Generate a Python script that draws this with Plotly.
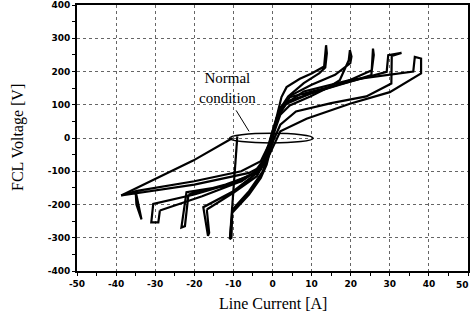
import plotly.graph_objects as go

# ---- data (Line current [A], FCL voltage [V]) ----
loop1_x = [-10.3, -6, -3, -1.5, 0, 1, 2.3, 3.6, 7, 10, 13.2, 13.4, 13.7, 13.9, 13.5, 12, 8, 4, 1.5, 0.5, -0.8, -2.5, -6, -10.2, -10.9, -10.5, -10.3]
loop1_y = [-225, -170, -120, -80, -10, 60, 123, 153, 178, 194, 215, 250, 279, 255, 212, 195, 165, 125, 80, 30, -40, -100, -160, -215, -304, -300, -225]

loop2_x = [-16.8, -10, -4, -1.5, 0.5, 2, 4.4, 9.5, 14, 17.2, 19.5, 19.8, 20.2, 19.9, 16, 10, 5, 2, 0, -1.5, -4, -10, -17.7, -16.5, -16.2, -16.8]
loop2_y = [-215, -165, -115, -60, 20, 70, 98, 124, 150, 174, 234, 264, 245, 225, 190, 160, 130, 90, 20, -50, -105, -160, -208, -294, -285, -215]

loop3_x = [-21.5, -12, -5, -2, 0, 1.5, 4.4, 12.9, 20, 25.3, 25.5, 25.7, 25.9, 25.4, 18, 10, 4, 1, -1, -3, -8, -15, -22, -23.3, -22.4, -21.5]
loop3_y = [-170, -140, -110, -60, 10, 70, 123, 149, 170, 189, 230, 269, 250, 204, 165, 135, 110, 60, -20, -90, -130, -150, -163, -269, -265, -170]

loop4_x = [-28.8, -18, -8, -3, -0.5, 1, 3, 10, 20, 29.2, 29.6, 33, 30.5, 30.4, 24, 15, 6, 2, -1, -3, -10, -20, -30.5, -31, -29.2, -28.8]
loop4_y = [-218, -175, -130, -90, -20, 50, 100, 135, 170, 199, 249, 256, 247, 164, 125, 105, 80, 40, -40, -95, -135, -170, -198, -254, -254, -218]

loop5_x = [-35, -20, -8, -3, -0.5, 1, 3, 8, 20, 30, 36, 36.4, 38, 38, 30, 19.8, 8.7, 2, 0, -2, -6, -20, -38.7, -35, -34.8, -33.5, -35]
loop5_y = [-160, -130, -100, -70, -10, 50, 100, 140, 175, 190, 200, 244, 239, 194, 138, 103, 58, 20, -30, -80, -105, -140, -173, -160, -200, -245, -160]

transient1_x = [-38.7, -20.3, -10.2]
transient1_y = [-173, -68, 0]
transient2_x = [-9, -10, -10.9]
transient2_y = [5, -150, -304]

# normal-condition ellipse bounds and annotation
ellipse_x = [-11, 10.4]
ellipse_y = [-15, 14]
arrow_x = [-9.3, -6.0]
arrow_y = [83, 20]
note_text = "Normal<br>condition"
note_pos = [-11.4, 149]

x_title = "Line Current [A]"
y_title = "FCL Voltage [V]"
x_ticks = [-50, -40, -30, -20, -10, 0, 10, 20, 30, 40, 50]
x_ticktext = ["-50", "-40", "-30", "-20", "-10", "0", "10", "20", "30", "40", "50"]
y_ticks = [-400, -300, -200, -100, 0, 100, 200, 300, 400]
y_ticktext = ["-400", "-300", "-200", "-100", "0", "100", "200", "300", "400"]

fig = go.Figure()
line_style = dict(color="black", width=2.2)
for xs, ys in [(loop1_x, loop1_y), (loop2_x, loop2_y), (loop3_x, loop3_y),
               (loop4_x, loop4_y), (loop5_x, loop5_y),
               (transient1_x, transient1_y), (transient2_x, transient2_y)]:
    fig.add_trace(go.Scatter(x=xs, y=ys, mode="lines", line=line_style,
                             showlegend=False, hoverinfo="skip"))

fig.add_shape(type="circle", xref="x", yref="y",
              x0=ellipse_x[0], x1=ellipse_x[1], y0=ellipse_y[0], y1=ellipse_y[1],
              line=dict(color="black", width=1.5))
fig.add_shape(type="line", xref="x", yref="y",
              x0=arrow_x[0], x1=arrow_x[1], y0=arrow_y[0], y1=arrow_y[1],
              line=dict(color="black", width=1))

serif = "Liberation Serif"
fig.add_annotation(x=note_pos[0], y=note_pos[1], text=note_text, showarrow=False,
                   font=dict(family=serif, size=15, color="black"),
                   align="center")

# axis titles placed as paper annotations
fig.add_annotation(xref="paper", yref="paper", x=0.5, y=0, yshift=-32,
                   yanchor="middle", text=x_title, showarrow=False,
                   font=dict(family=serif, size=16, color="black"))
fig.add_annotation(xref="paper", yref="paper", x=0, xshift=-59, y=0.5,
                   xanchor="center", text=y_title, showarrow=False, textangle=-90,
                   font=dict(family=serif, size=16, color="black"))

tickfont = dict(family="DejaVu Sans", size=9, color="black", weight="bold")

# last x tick label drawn right-anchored so it stays inside the page
last_label = x_ticktext[-1]
shown_xtext = x_ticktext[:-1] + [""]
fig.add_annotation(x=x_ticks[-1], xref="x", yref="paper", y=0, yshift=-14,
                   xanchor="right", xshift=3, yanchor="middle",
                   text=last_label, showarrow=False, font=tickfont)

common = dict(tickfont=tickfont, showgrid=True, gridcolor="#666666",
              griddash="dot", gridwidth=1, zeroline=False, automargin=False,
              showline=True, linecolor="black", linewidth=2, mirror=True,
              ticks="outside", ticklen=3, tickcolor="black")
fig.update_xaxes(range=[-50, 50], tickvals=x_ticks, ticktext=shown_xtext,
                 minor=dict(dtick=5, ticks="outside", ticklen=3, tickcolor="black", showgrid=False),
                 **common)
fig.update_yaxes(range=[-400, 400], tickvals=y_ticks, ticktext=y_ticktext,
                 minor=dict(dtick=50, ticks="outside", ticklen=3, tickcolor="black", showgrid=False),
                 **common)

fig.update_layout(width=471, height=317, margin=dict(l=77, r=3, t=5, b=46),
                  plot_bgcolor="white", paper_bgcolor="white")

fig.write_html("out.html", config={"displayModeBar": False},
               post_script="document.body.style.margin='0';document.body.style.overflow='hidden';")
